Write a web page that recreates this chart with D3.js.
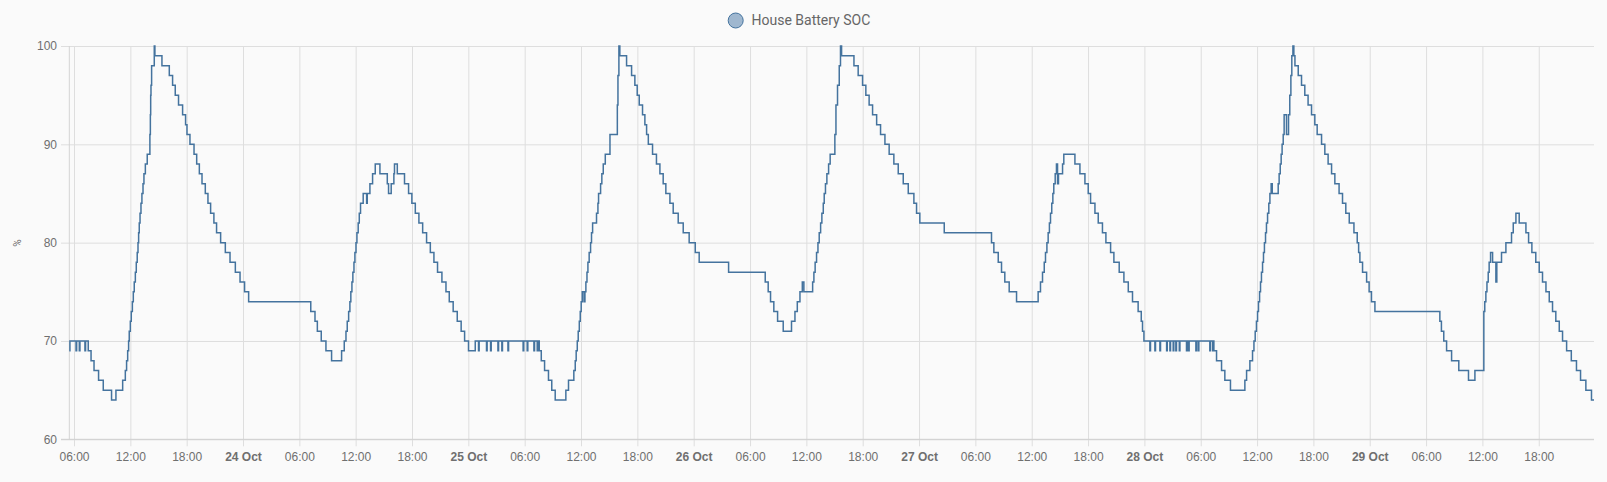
<!DOCTYPE html>
<html><head><meta charset="utf-8">
<script src="https://cdn.jsdelivr.net/npm/d3@7"></script>
<style>html,body{margin:0;background:#fafafa;} svg{display:block;font-family:Roboto,"Noto Sans",sans-serif;}</style>
</head><body><svg id="c" width="1607" height="482"></svg>
<script>
const seriesName = "House Battery SOC";
const unitLabel = "%";
const yTicks = [60, 70, 80, 90, 100];
const domainStart = "23 05:30";
const domainEnd = "29 23:53";
// change points of the stepped series (day-of-October hh:mm)
const times = [
"23 05:30","23 05:34","23 06:13","23 06:17","23 06:34","23 06:38","23 07:10","23 07:14","23 07:31","23 07:49",
"23 08:08","23 08:37","23 09:07","23 10:00","23 10:28","23 11:11","23 11:28","23 11:36","23 11:43","23 11:49",
"23 11:53","23 12:00","23 12:06","23 12:13","23 12:19","23 12:25","23 12:32","23 12:38","23 12:44","23 12:49",
"23 12:53","23 12:57","23 13:02","23 13:08","23 13:14","23 13:21","23 13:27","23 13:36","23 13:48","23 14:05",
"23 14:08","23 14:10","23 14:12","23 14:16","23 14:33","23 14:37","23 15:22","23 16:09","23 16:30","23 16:47",
"23 17:08","23 17:34","23 17:53","23 18:02","23 18:21","23 18:47","23 19:04","23 19:21","23 19:38","23 19:59",
"23 20:16","23 20:33","23 20:54","23 21:11","23 21:37","23 22:07","23 22:37","23 23:11","23 23:41",
"24 00:10","24 00:36","24 07:13","24 07:40","24 07:55","24 08:20","24 08:50","24 09:26","24 10:30","24 10:47",
"24 10:58","24 11:06","24 11:15","24 11:23","24 11:29","24 11:36","24 11:42","24 11:49","24 11:55","24 12:02",
"24 12:08","24 12:16","24 12:23","24 12:31","24 12:48","24 13:10","24 13:14","24 13:31","24 13:48","24 14:05",
"24 14:35","24 15:22","24 15:30","24 15:47","24 16:04","24 16:08","24 16:26","24 17:12","24 17:38","24 17:59",
"24 18:21","24 18:44","24 19:08","24 19:33","24 19:57","24 20:20","24 20:43","24 21:11","24 21:37","24 21:58",
"24 22:23","24 22:49","24 23:14","24 23:36",
"25 00:01","25 00:44","25 01:05","25 01:09","25 01:56","25 02:00","25 02:22","25 02:26","25 03:09","25 03:13",
"25 03:34","25 03:38","25 04:13","25 04:17","25 05:50","25 05:54","25 06:16","25 06:20","25 06:59","25 07:03",
"25 07:20","25 07:24","25 07:33","25 07:46","25 08:07","25 08:32","25 08:53","25 09:15","25 10:23","25 10:40",
"25 11:14","25 11:23","25 11:29","25 11:36","25 11:42","25 11:49","25 11:55","25 12:01","25 12:08","25 12:19",
"25 12:25","25 12:31","25 12:38","25 12:44","25 12:52","25 13:01","25 13:07","25 13:14","25 13:39","25 13:48",
"25 13:52","25 14:05","25 14:13","25 14:22","25 14:35","25 15:05","25 15:52","25 15:56","25 16:02","25 16:08",
"25 16:51","25 17:23","25 17:44","25 17:59","25 18:12","25 18:33","25 18:48","25 18:59","25 19:10","25 19:37",
"25 20:02","25 20:24","25 20:45","25 21:02","25 21:28","25 21:49","25 22:21","25 22:53","25 23:31",
"26 00:10","26 00:35","26 03:43","26 07:37","26 07:56","26 08:11","26 08:32","26 08:56","26 09:32","26 10:25",
"26 10:47","26 11:02","26 11:19","26 11:34","26 11:44","26 12:40","26 12:48","26 12:56","26 13:05","26 13:14",
"26 13:22","26 13:31","26 13:39","26 13:48","26 13:54","26 14:02","26 14:11","26 14:22","26 14:32","26 15:02",
"26 15:09","26 15:19","26 15:30","26 15:38","26 15:45","26 17:04","26 17:31","26 17:59","26 18:20","26 18:41",
"26 19:03","26 19:29","26 19:54","26 20:22","26 20:49","26 21:19","26 21:47","26 22:19","26 22:51","26 23:27",
"26 23:44",
"27 00:05","27 02:41","27 07:43","27 07:58","27 08:26","27 08:47","27 09:08","27 09:36","27 10:23","27 12:41",
"27 12:56","27 13:09","27 13:20","27 13:28","27 13:37","27 13:45","27 13:53","27 14:00","27 14:08","27 14:15",
"27 14:21","27 14:30","27 14:38","27 14:45","27 14:51","27 15:17","27 15:25","27 16:36","27 17:08","27 17:40",
"27 18:01","27 18:16","27 18:44","27 19:05","27 19:32","27 19:54","27 20:24","27 20:45","27 21:19","27 21:49",
"27 22:17","27 22:44","27 23:20","27 23:40","27 23:48","27 23:57",
"28 00:35","28 00:39","28 01:07","28 01:11","28 01:39","28 01:43","28 02:22","28 02:26","28 02:43","28 02:47",
"28 03:04","28 03:08","28 03:21","28 03:25","28 03:43","28 03:47","28 04:29","28 04:33","28 04:42","28 04:46",
"28 05:29","28 05:33","28 05:44","28 05:48","28 06:58","28 07:02","28 07:16","28 07:20","28 07:24","28 07:41",
"28 08:13","28 08:34","28 09:10","28 10:42","28 10:53","28 11:14","28 11:31","28 11:40","28 11:48","28 11:56",
"28 12:03","28 12:09","28 12:16","28 12:22","28 12:28","28 12:35","28 12:41","28 12:47","28 12:54","28 13:00",
"28 13:07","28 13:15","28 13:22","28 13:30","28 13:37","28 14:15","28 14:21","28 14:28","28 14:34","28 14:40",
"28 14:47","28 14:53","28 15:08","28 15:21","28 15:29","28 15:36","28 15:42","28 15:49","28 15:55","28 16:02",
"28 16:23","28 16:44","28 17:05","28 17:26","28 17:48","28 18:09","28 18:24","28 18:52","28 19:13","28 19:34",
"28 19:56","28 20:17","28 20:44","28 21:06","28 21:27","28 21:49","28 22:19","28 22:40","28 22:49","28 22:57",
"28 23:14","28 23:40","28 23:56",
"29 00:11","29 00:33","29 07:28","29 07:38","29 07:53","29 08:11","29 08:43","29 09:29","29 10:31","29 11:12",
"29 12:09","29 12:15","29 12:22","29 12:29","29 12:37","29 12:43","29 12:52","29 13:05","29 13:26","29 13:32",
"29 14:02","29 14:30","29 15:06","29 15:17","29 15:34","29 15:55","29 16:38","29 16:55","29 17:16","29 17:41",
"29 18:03","29 18:24","29 18:46","29 19:07","29 19:28","29 19:49","29 20:11","29 20:32","29 20:58","29 21:28",
"29 22:01","29 22:27","29 23:01","29 23:37","29 23:53"
];
const soc = [
69,70,69,70,69,70,69,70,69,68,
67,66,65,64,65,66,67,68,69,70,
71,72,73,74,75,76,77,78,79,80,
81,82,83,84,85,86,87,88,89,91,
93,95,96,98,100,99,98,97,96,95,
94,93,92,91,90,89,88,87,86,85,
84,83,82,81,80,79,78,77,76,
75,74,73,72,71,70,69,68,69,70,
71,72,73,74,75,76,77,78,79,80,
81,82,83,84,85,84,85,86,87,88,
87,86,85,86,87,88,87,86,85,84,
83,82,81,80,79,78,77,76,75,74,
73,72,71,70,
69,70,69,70,69,70,69,70,69,70,
69,70,69,70,69,70,69,70,69,70,
69,70,69,68,67,66,65,64,65,66,
67,68,69,70,71,72,73,74,75,74,
75,76,77,78,79,80,81,82,83,84,
85,86,87,88,89,91,94,97,100,99,
98,97,96,95,94,93,92,91,90,89,
88,87,86,85,84,83,82,81,80,
79,78,77,76,75,74,73,72,71,72,
73,74,75,76,75,76,77,78,79,80,
81,82,83,84,85,86,87,88,89,91,
94,96,98,100,99,98,97,96,95,94,
93,92,91,90,89,88,87,86,85,84,
83,
82,81,80,79,78,77,76,75,74,75,
76,77,78,79,80,81,82,83,84,85,
86,87,88,86,87,88,89,88,87,86,
85,84,83,82,81,80,79,78,77,76,
75,74,73,72,71,70,
69,70,69,70,69,70,69,70,69,70,
69,70,69,70,69,70,69,70,69,70,
69,70,69,70,69,70,69,70,69,68,
67,66,65,66,67,68,69,70,71,72,
73,74,75,76,77,78,79,80,81,82,
83,84,85,86,85,86,87,88,89,90,
91,93,91,93,95,97,99,100,99,98,
97,96,95,94,93,92,91,90,89,88,
87,86,85,84,83,82,81,80,79,78,
77,76,75,
74,73,72,71,70,69,68,67,66,67,
73,74,75,76,77,78,79,78,76,78,
79,80,81,82,83,82,81,80,79,78,
77,76,75,74,73,72,71,70,69,68,
67,66,65,64,64
];

const parse = d3.utcParse("%Y-%m-%d %H:%M");
const toDate = s => parse("2023-10-" + s);
const data = times.map((t, i) => ({ t: toDate(t), v: soc[i] }));

const svg = d3.select("#c");
const x = d3.scaleUtc().domain([toDate(domainStart), toDate(domainEnd)]).range([69.3, 1594]);
const y = d3.scaleLinear().domain([60, 100]).range([439.3, 46]);

const gridColor = "#dedede";
const textColor = "#6f6f6f";

// horizontal grid + y tick labels
const yAxis = d3.axisLeft(y).tickValues(yTicks).tickSize(1594 - 61).tickPadding(4).tickFormat(d3.format("d"));
const gy = svg.append("g").attr("transform", "translate(1594,0)").call(yAxis);
gy.select(".domain").remove();
gy.selectAll(".tick line").attr("stroke", gridColor);
gy.selectAll(".tick text").attr("fill", textColor).style("font-size", "12px")
  .attr("x", -(1594 - 57)).attr("text-anchor", "end");

// x ticks every 6 hours
const xTickVals = d3.utcHour.every(6).range(x.domain()[0], x.domain()[1]);
const fmtHour = d3.utcFormat("%H:%M"), fmtDay = d3.utcFormat("%-d %b");
const isMidnight = d => d.getUTCHours() === 0;
const xAxis = d3.axisBottom(x).tickValues(xTickVals).tickSize(439.3 - 46 + 7).tickPadding(6)
  .tickFormat(d => isMidnight(d) ? fmtDay(d) : fmtHour(d));
const gx = svg.append("g").attr("transform", "translate(0,46)").call(xAxis);
gx.select(".domain").remove();
gx.selectAll(".tick line").attr("stroke", gridColor);
gx.selectAll(".tick text").attr("fill", textColor).style("font-size", "12px")
  .style("font-weight", d => isMidnight(d) ? "bold" : "normal");

// axis lines
svg.append("line").attr("x1", 69.3).attr("x2", 69.3).attr("y1", 46).attr("y2", 439.3).attr("stroke", "#d4d4d4");
svg.append("line").attr("x1", 61).attr("x2", 1594).attr("y1", y(60)).attr("y2", y(60)).attr("stroke", "#cfcfcf");

// unit label
svg.append("text").attr("transform", "translate(21,243) rotate(-90)").attr("text-anchor", "middle")
  .attr("fill", textColor).style("font-size", "10px").text(unitLabel);

// series line
const line = d3.line().x(d => x(d.t)).y(d => y(d.v)).curve(d3.curveStepAfter);
svg.append("path").datum(data).attr("d", line).attr("fill", "none")
  .attr("stroke", "#44739e").attr("stroke-width", 1.5).attr("stroke-linejoin", "miter");

// legend
const lg = svg.append("g");
lg.append("circle").attr("cx", 735.7).attr("cy", 20.5).attr("r", 7.5)
  .attr("fill", "#9fb7cf").attr("stroke", "#44739e").attr("stroke-width", 1);
lg.append("text").attr("x", 751.5).attr("y", 20.5).attr("dy", "0.35em").attr("fill", "#666")
  .style("font-size", "14px").text(seriesName);
</script></body></html>
